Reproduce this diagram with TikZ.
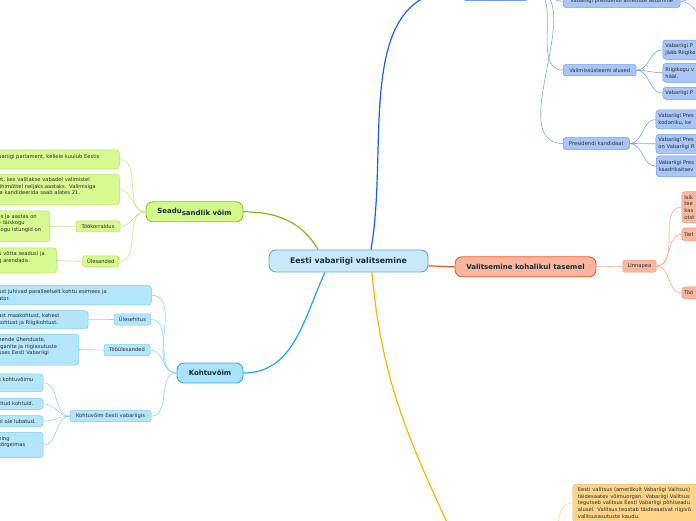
\documentclass[tikz,border=0pt]{standalone}
\usepackage{fontspec}
\setmainfont{DejaVu Sans}
\definecolor{inkdark}{HTML}{10303A}
\definecolor{inkleaf}{HTML}{2B2B2B}
\definecolor{hubfill}{HTML}{C9E9FB}
\definecolor{hubline}{HTML}{5AA8DC}
\definecolor{lawfill}{HTML}{D3F98A}
\definecolor{lawline}{HTML}{8CC21E}
\definecolor{lawlinkc}{HTML}{8CB31C}
\definecolor{lawleaffill}{HTML}{D6FA8F}
\definecolor{lawleafline}{HTML}{B5E15C}
\definecolor{lawtwigc}{HTML}{C2E487}
\definecolor{courtfill}{HTML}{A9E2FA}
\definecolor{courtline}{HTML}{30ACE6}
\definecolor{courtlinkc}{HTML}{1EA5E6}
\definecolor{courtleaffill}{HTML}{B3E5FB}
\definecolor{courtleafline}{HTML}{7FCBF0}
\definecolor{courttwigc}{HTML}{8DD3F4}
\definecolor{localfill}{HTML}{F9B59E}
\definecolor{localline}{HTML}{EE5B2A}
\definecolor{locallinkc}{HTML}{F05523}
\definecolor{localleaffill}{HTML}{F8B8A0}
\definecolor{localleafline}{HTML}{F39A78}
\definecolor{localtwigc}{HTML}{F6A888}
\definecolor{statefill}{HTML}{B5CEF8}
\definecolor{stateline}{HTML}{6E9DEB}
\definecolor{statelinkc}{HTML}{1B5FD9}
\definecolor{stateleaffill}{HTML}{A9C6F8}
\definecolor{stateleafline}{HTML}{6B9BEA}
\definecolor{statetwigc}{HTML}{78A6EE}
\definecolor{cabinetlinkc}{HTML}{F7B500}
\definecolor{cabinetfill}{HTML}{FDD487}
\definecolor{cabinetline}{HTML}{F2C062}
\definecolor{cabinettwigc}{HTML}{F8D48A}
\tikzset{
  hub/.style={draw=hubline, fill=hubfill, line width=0.9pt, rounded corners=7pt, font=\bfseries\fontsize{7.8}{9}\selectfont, text=inkdark, minimum width=159pt, minimum height=22pt, inner sep=0pt},
  topic/.style={line width=0.9pt, rounded corners=7pt, font=\bfseries\fontsize{7}{8}\selectfont, text=inkdark, minimum height=20pt, inner sep=0pt},
  twig/.style={line width=0.5pt, rounded corners=2pt, font=\fontsize{5.2}{6.6}\selectfont, text=inkleaf, minimum height=11pt, inner sep=0pt},
  leaf/.style={line width=0.5pt, rounded corners=3pt, font=\fontsize{5.2}{6.6}\selectfont, text=inkleaf, align=left, inner sep=2.5pt},
  law/.style={draw=lawline, fill=lawfill},
  lawleaf/.style={draw=lawleafline, fill=lawleaffill},
  court/.style={draw=courtline, fill=courtfill},
  courtleaf/.style={draw=courtleafline, fill=courtleaffill},
  local/.style={draw=localline, fill=localfill},
  localleaf/.style={draw=localleafline, fill=localleaffill},
  state/.style={draw=stateline, fill=statefill},
  stateleaf/.style={draw=stateleafline, fill=stateleaffill},
  cabinetleaf/.style={draw=cabinetline, fill=cabinetfill},
  lawlink/.style={draw=lawlinkc, line width=1.2pt},
  courtlink/.style={draw=courtlinkc, line width=1.2pt},
  locallink/.style={draw=locallinkc, line width=1.2pt},
  statelink/.style={draw=statelinkc, line width=1.2pt},
  cabinetlink/.style={draw=cabinetlinkc, line width=1.2pt},
  lawtwig/.style={draw=lawtwigc, line width=0.6pt},
  courttwig/.style={draw=courttwigc, line width=0.6pt},
  localtwig/.style={draw=localtwigc, line width=0.6pt},
  statetwig/.style={draw=statetwigc, line width=0.6pt},
  cabinettwig/.style={draw=cabinettwigc, line width=0.6pt},
}
\begin{document}
\begin{tikzpicture}[x=1pt,y=1pt]
\useasboundingbox (0,0) rectangle (696,520);
\clip (0,0) rectangle (696,520);

\node[hub] (hub) at (348.5,259) {Eesti vabariigi valitsemine};
\node[topic, law, minimum width=97pt] (law) at (194.5,308.2) {\raisebox{1.5pt}{Seadu}sandlik võim};
\node[topic, court, minimum width=66pt] (court) at (210,147) {Kohtuvõim};
\node[topic, local, minimum width=141pt] (local) at (525.5,253.2) {Valitsemine kohalikul tasemel};
\node[topic, state, minimum width=71pt, minimum height=21pt] (realm) at (495.5,530) {};

\node[leaf, lawleaf, anchor=east, text width=118.5pt, minimum height=19pt] (lawA) at (119.5,360.5) {bariigi parlament, kellele kuulub Eestis\\\mbox{}};
\node[leaf, lawleaf, anchor=east, text width=118.5pt, minimum height=30.7pt] (lawB) at (119.5,330.4) {et, kes valitakse vabadel valimistel\\õhimõttel neljaks aastaks. Valimisiga\\ia kandideerida saab alates 21.\\\mbox{}};
\node[twig, lawleaf, minimum width=44pt] (lawWork) at (98,293.6) {Töökorraldus};
\node[leaf, lawleaf, anchor=east, text width=49.5pt, minimum height=30.7pt] (lawC) at (50,293.7) {ks ja aastas on\\o täiskogu\\kogu istungid on\\.};
\node[twig, lawleaf, minimum width=36.3pt] (lawTask) at (100.8,258.6) {Ülesanded};
\node[leaf, lawleaf, anchor=east, text width=55.7pt, minimum height=25pt] (lawD) at (56.7,259.5) {u võtta seadusi ja\\g arendada\\\mbox{}};

\node[leaf, courtleaf, anchor=east, text width=150.7pt, minimum height=19.3pt] (courtA) at (151.7,224.7) {ust juhivad paralleelselt kohtu esimees ja\\ator.};
\node[twig, courtleaf, minimum width=36.7pt] (courtBuild) at (132.4,200.5) {Ülesehitus};
\node[leaf, courtleaf, anchor=east, text width=87.3pt, minimum height=18.3pt] (courtB) at (88.3,200.2) {ast maakohtust, kahest\\kohtust ja Riigikohtust.};
\node[twig, courtleaf, minimum width=46pt] (courtDuty) at (127,170) {Tööülesanded};
\node[leaf, courtleaf, anchor=east, text width=78pt, minimum height=31pt] (courtC) at (79,170.5) {nende ühenduste,\\rganite ja riigiasutuste\\uses Eesti Vabariigi\\\mbox{}};
\node[twig, courtleaf, minimum width=81pt] (courtHere) at (110.5,103.8) {Kohtuvõim Eesti vabariigis};
\node[leaf, courtleaf, anchor=east, text width=42.3pt, minimum height=17.7pt] (courtD) at (43.3,137.2) {s kohtuvõimu\\\mbox{}};
\node[leaf, courtleaf, anchor=east, text width=42.3pt, minimum height=11pt] (courtE) at (43.3,116.2) {ritud kohtuid.};
\node[leaf, courtleaf, anchor=east, text width=42.3pt, minimum height=11pt] (courtF) at (43.3,98.8) {ei ole lubatud.};
\node[leaf, courtleaf, anchor=east, text width=42.3pt, minimum height=25.4pt] (courtG) at (43.3,75) {ning\\kõrgeimas\\\mbox{}};

\node[twig, localleaf, minimum width=33.3pt, minimum height=12pt] (mayor) at (639.4,253.8) {Linnapea};
\node[leaf, localleaf, anchor=west, text width=40pt, minimum height=31pt] (mayorA) at (681.7,312.8) {Isik\\tee\\kas\\otst};
\node[leaf, localleaf, anchor=west, text width=40pt, minimum height=12.7pt] (mayorB) at (681.7,285.7) {Tarl};
\node[leaf, localleaf, anchor=west, text width=40pt, minimum height=12pt] (mayorC) at (681.7,227) {Töö};

\node[twig, stateleaf, minimum width=116.7pt, minimum height=12pt] (oath) at (621.7,518.7) {Vabariigi presidendi ametisse astumine};
\node[twig, stateleaf, minimum width=72.7pt] (basis) at (599.7,449.8) {Valimissüsteemi alused};
\node[leaf, stateleaf, anchor=west, text width=60pt, minimum height=19.3pt] (basisA) at (662.7,470.3) {Vabariigi P\\jääb Riigiko};
\node[leaf, stateleaf, anchor=west, text width=60pt, minimum height=19pt] (basisB) at (662.7,447.2) {Riigikogu v\\hääl.};
\node[leaf, stateleaf, anchor=west, text width=60pt, minimum height=12pt] (basisC) at (662.7,426.7) {Vabariigi P};
\node[twig, stateleaf, minimum width=66pt, minimum height=11.6pt] (candidate) at (596.3,376.5) {Presidendi kandidaat};
\node[leaf, stateleaf, anchor=west, text width=60pt, minimum height=19pt] (candA) at (655.7,400.5) {Vabariigi Pres\\kodaniku, ke};
\node[leaf, stateleaf, anchor=west, text width=60pt, minimum height=19pt] (candB) at (655.7,376.2) {Vabariigi Pres\\on Vabariigi R};
\node[leaf, stateleaf, anchor=west, text width=60pt, minimum height=20.7pt] (candC) at (656,353.7) {Vabariigi Pres\\kaadrikaitsev};
\coordinate (oathUp) at (712,536);
\coordinate (oathDown) at (712,500);

\node[leaf, cabinetleaf, anchor=north west, text width=130pt, inner xsep=5pt, inner ysep=3.5pt] (cabinet) at (572.7,36) {Eesti valitsus (ametlikult Vabariigi Valitsus)\\täidesaatev võimuorgan. Vabariigi Valitsus\\tegutseb valitsus Eesti Vabariigi põhiseadu\\alusel. Valitsus teostab täidesaatvat riigivõ\\valitsusasutuste kaudu.};
\coordinate (cabinetEnd) at (460,-30);
\coordinate (cabinetRoot) at (556,-20);

\draw[lawlink] (law.east) to[out=0,in=120] ([xshift=-30.5pt]hub.north);
\draw[courtlink] (court.east) to[out=0,in=-115] ([xshift=-23.5pt]hub.south);
\draw[locallink] ([yshift=-5pt]hub.east) to[out=0,in=180] (local.west);
\draw[statelink] ([xshift=22.5pt]hub.north) to[out=80,in=180] (realm.west);
\draw[cabinetlink] ([xshift=23.5pt]hub.south) to[out=-85,in=115] (cabinetEnd);

\draw[lawtwig] (law.west) to[out=180,in=0] (lawA.east);
\draw[lawtwig] (law.west) to[out=180,in=0] (lawB.east);
\draw[lawtwig] (law.west) to[out=180,in=0] (lawWork.east);
\draw[lawtwig] (law.west) to[out=180,in=0] (lawTask.east);
\draw[lawtwig] (lawWork.west) -- (lawC.east);
\draw[lawtwig] (lawTask.west) -- (lawD.east);

\draw[courttwig] (court.west) to[out=180,in=0] (courtA.east);
\draw[courttwig] (court.west) to[out=180,in=0] (courtBuild.east);
\draw[courttwig] (court.west) to[out=180,in=0] (courtDuty.east);
\draw[courttwig] (court.west) to[out=180,in=0] (courtHere.east);
\draw[courttwig] (courtBuild.west) -- (courtB.east);
\draw[courttwig] (courtDuty.west) -- (courtC.east);
\draw[courttwig] (courtHere.west) to[out=180,in=0] (courtD.east);
\draw[courttwig] (courtHere.west) to[out=180,in=0] (courtE.east);
\draw[courttwig] (courtHere.west) to[out=180,in=0] (courtF.east);
\draw[courttwig] (courtHere.west) to[out=180,in=0] (courtG.east);

\draw[localtwig] (local.east) -- (mayor.west);
\draw[localtwig] (mayor.east) to[out=0,in=180] (mayorA.west);
\draw[localtwig] (mayor.east) to[out=0,in=180] (mayorB.west);
\draw[localtwig] (mayor.east) to[out=0,in=180] (mayorC.west);

\draw[statetwig] (realm.east) to[out=0,in=180] (oath.west);
\draw[statetwig] (realm.east) to[out=0,in=180] (basis.west);
\draw[statetwig] (realm.east) to[out=0,in=180] (candidate.west);
\draw[statetwig] (basis.east) to[out=0,in=180] (basisA.west);
\draw[statetwig] (basis.east) to[out=0,in=180] (basisB.west);
\draw[statetwig] (basis.east) to[out=0,in=180] (basisC.west);
\draw[statetwig] (candidate.east) to[out=0,in=180] (candA.west);
\draw[statetwig] (candidate.east) to[out=0,in=180] (candB.west);
\draw[statetwig] (candidate.east) to[out=0,in=180] (candC.west);
\draw[statetwig] (oath.east) to[out=0,in=180] (oathUp);
\draw[statetwig] (oath.east) to[out=0,in=180] (oathDown);

\draw[cabinettwig] (cabinetRoot) to[out=80,in=180] (cabinet.west);
\end{tikzpicture}
\end{document}
